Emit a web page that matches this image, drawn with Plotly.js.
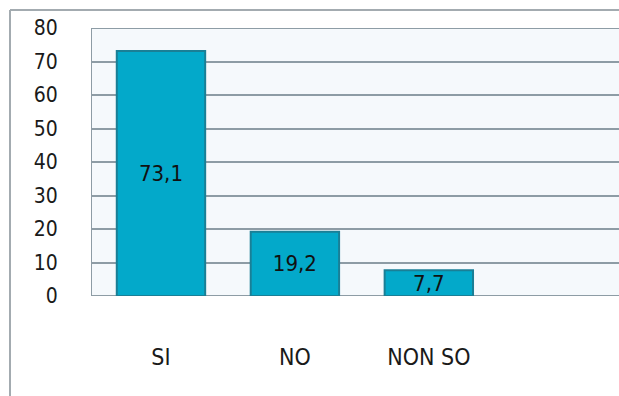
<!DOCTYPE html>
<html>
<head>
<meta charset="utf-8">
<script src="https://cdn.plot.ly/plotly-3.0.1.min.js"></script>
<style>
  html, body { margin: 0; padding: 0; background: #ffffff; }
  #chart { width: 619px; height: 396px; }
</style>
</head>
<body>
<div id="chart"></div>
<script>
// Survey answers (percent)
const categories = ['SI', 'NO', 'NON SO'];
const percentages = [73.1, 19.2, 7.7];

const W = 619, H = 396;
const margin = { l: 92, r: 0, t: 28, b: 100 };
const plotW = W - margin.l - margin.r;
const plotH = H - margin.t - margin.b;
// pixel -> paper coordinate helpers for the outer frame
const px = x => (x - margin.l) / plotW;
const py = y => (H - margin.b - y) / plotH;

const FONT = '"DejaVu Sans Condensed", "DejaVu Sans", sans-serif';
const GRID = '#8d9ca5';

const trace = {
  type: 'bar',
  x: categories,
  y: percentages,
  marker: {
    color: '#03a9ca',
    line: { color: '#1a7f96', width: 2 }
  },
  texttemplate: '%{y:.1f}',
  textposition: 'inside',
  insidetextanchor: 'middle',
  constraintext: 'none',
  textfont: { family: FONT, size: 22, color: '#111111' },
  hoverinfo: 'none',
  cliponaxis: false
};

const layout = {
  width: W,
  height: H,
  margin: margin,
  separators: ',.',
  paper_bgcolor: '#ffffff',
  plot_bgcolor: '#f5f9fc',
  showlegend: false,
  bargap: 0.34,
  font: { family: FONT, size: 21, color: '#1a1a1a' },
  xaxis: {
    type: 'category',
    range: [-0.515, 3.42],
    showgrid: false,
    showline: false,
    zeroline: false,
    ticks: '',
    ticklabelstandoff: 45,
    tickfont: { family: FONT, size: 23, color: '#1a1a1a' }
  },
  yaxis: {
    range: [0, 80],
    dtick: 10,
    showgrid: true,
    gridcolor: GRID,
    gridwidth: 2,
    zeroline: false,
    showline: true,
    linecolor: GRID,
    linewidth: 1,
    ticks: '',
    ticklabelstandoff: 29,
    tickfont: { family: FONT, size: 21, color: '#1a1a1a' }
  },
  shapes: [
    // baseline at zero and top gridline at the range maximum
    { type: 'line', xref: 'paper', yref: 'y', x0: 0, x1: 1, y0: 0, y1: 0,
      line: { color: GRID, width: 2 }, layer: 'below' },
    { type: 'line', xref: 'paper', yref: 'y', x0: 0, x1: 1, y0: 80, y1: 80,
      line: { color: GRID, width: 2 }, layer: 'below' },
    // outer frame: top and left edges
    { type: 'line', xref: 'paper', yref: 'paper', x0: px(10), x1: px(W + 5), y0: py(10), y1: py(10),
      line: { color: '#a3abb0', width: 2 } },
    { type: 'line', xref: 'paper', yref: 'paper', x0: px(10), x1: px(10), y0: py(10), y1: py(H + 5),
      line: { color: '#a3abb0', width: 2 } }
  ]
};

Plotly.newPlot('chart', [trace], layout, { staticPlot: true, displayModeBar: false });
</script>
</body>
</html>
